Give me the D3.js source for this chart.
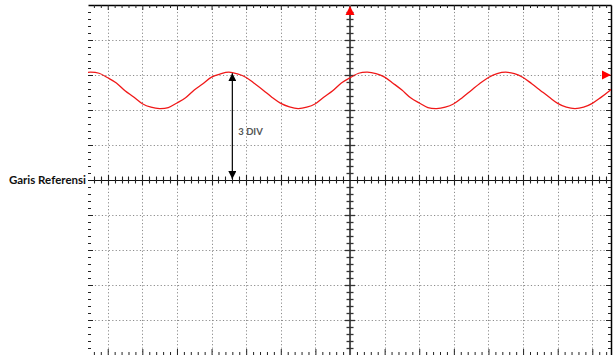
<!DOCTYPE html>
<html>
<head>
  <script type="text/javascript" src="https://cdn.jsdelivr.net/npm/d3@7"></script>
  <title>Garis Referensi</title>
  <style>
    body { margin: 0; background: #fff; }
    svg { display: block; }
  </style>
</head>
<body>

<svg id="scope" width="613" height="355"></svg>

<script>
  var waveX = [-7.75, -7.5, -7.25, -7, -6.75, -6.5, -6.25, -6, -5.75, -5.5, -5.25, -5,
    -4.75, -4.5, -4.25, -4, -3.75, -3.5, -3.25, -3, -2.75, -2.5, -2.25, -2, -1.75,
    -1.5, -1.25, -1, -0.75, -0.5, -0.25, 0, 0.25, 0.5, 0.75, 1, 1.25, 1.5, 1.75,
    2, 2.25, 2.5, 2.75, 3, 3.25, 3.5, 3.75, 4, 4.25, 4.5, 4.75, 5, 5.25, 5.5, 5.75,
    6, 6.25, 6.5, 6.75, 7, 7.25, 7.5, 7.75];
  var waveY = [3.05, 3.08, 3.05, 2.92, 2.77, 2.55, 2.37, 2.18, 2.08, 2.04, 2.07, 2.20,
    2.35, 2.57, 2.75, 2.94, 3.03, 3.08, 3.03, 2.93, 2.75, 2.56, 2.36, 2.19, 2.09,
    2.04, 2.08, 2.18, 2.37, 2.55, 2.77, 2.92, 3.05, 3.08, 3.04, 2.94, 2.76, 2.57, 2.35,
    2.20, 2.07, 2.04, 2.08, 2.18, 2.36, 2.56, 2.76, 2.93, 3.04, 3.08, 3.04, 2.93, 2.75,
    2.56, 2.37, 2.19, 2.08, 2.04, 2.08, 2.19, 2.36, 2.55, 2.76];

  var refLabel = "Garis Referensi";
  var measureLabel = "3 DIV";
  var measureAt = -3.4;      // div, where the arrow sits
  var measureTop = 3.05;     // div
  var triggerLevel = 3;      // div, right-hand marker
  var triggerTime = 0;       // div, top marker

  var svg = d3.select("#scope");

  var x = d3.scaleLinear().domain([-7.57, 7.54]).range([88, 611]);
  var y = d3.scaleLinear().domain([-5, 5]).range([355, 5]);

  var isMajor = function(d) { return Math.abs(d - Math.round(d)) < 1e-6; };
  var minorX = d3.range(-37, 38).map(function(i) { return i / 5; })
      .filter(function(d) { return x(d) > 89 && x(d) < 610; });
  var minorY = d3.range(-24, 25).map(function(i) { return i / 5; });

  // dotted graticule
  var grid = svg.append("g").attr("stroke", "#8c8c8c").attr("stroke-width", 1)
      .attr("stroke-dasharray", "1.2,2.26");
  grid.selectAll(".vgrid")
      .data(d3.range(-7, 8).filter(function(d) { return d !== 0; }))
      .enter().append("line")
      .attr("x1", function(d) { return Math.round(x(d)) + 0.5; })
      .attr("x2", function(d) { return Math.round(x(d)) + 0.5; })
      .attr("y1", y(5)).attr("y2", y(-5));
  grid.selectAll(".hgrid")
      .data(d3.range(-4, 5).filter(function(d) { return d !== 0; }))
      .enter().append("line")
      .attr("y1", function(d) { return Math.round(y(d)) + 0.5; })
      .attr("y2", function(d) { return Math.round(y(d)) + 0.5; })
      .attr("x1", x.range()[0]).attr("x2", x.range()[1]);

  function styleAxis(sel, showDomain) {
    sel.selectAll("text").remove();
    sel.select(".domain").attr("stroke", showDomain ? "#000" : "none").attr("stroke-width", 1.5);
    sel.selectAll(".tick line").attr("stroke", "#222").attr("stroke-width", 1);
  }

  // border ticks
  var topAxis = svg.append("g").attr("transform", "translate(0,5)")
      .call(d3.axisBottom(x).tickValues(minorX).tickSize(3).tickSizeOuter(0).tickFormat(""));
  styleAxis(topAxis, true);
  topAxis.selectAll(".tick line").attr("y2", function(d) { return isMajor(d) ? 5 : 3; });

  var bottomAxis = svg.append("g").attr("transform", "translate(0,355)")
      .call(d3.axisTop(x).tickValues(minorX).tickSize(3).tickSizeOuter(0).tickFormat(""));
  styleAxis(bottomAxis, false);
  bottomAxis.selectAll(".tick line").attr("y2", function(d) { return isMajor(d) ? -6 : -3; });

  var leftAxis = svg.append("g").attr("transform", "translate(88,0)")
      .call(d3.axisRight(y).tickValues(minorY).tickSize(3).tickSizeOuter(0).tickFormat(""));
  styleAxis(leftAxis, false);
  leftAxis.selectAll(".tick line").attr("x2", function(d) { return isMajor(d) ? 5 : 3; });

  var rightAxis = svg.append("g").attr("transform", "translate(611,0)")
      .call(d3.axisLeft(y).tickValues(minorY).tickSize(3).tickSizeOuter(0).tickFormat(""));
  styleAxis(rightAxis, true);
  rightAxis.selectAll(".tick line").attr("x2", function(d) { return isMajor(d) ? -5 : -3; });

  // centre cross with its own ticks
  svg.append("line")
      .attr("x1", x(0)).attr("x2", x(0)).attr("y1", y(5)).attr("y2", y(-5))
      .attr("stroke", "#555").attr("stroke-width", 2);
  svg.append("g").selectAll("line")
      .data(minorY.filter(function(d) { return d !== 0; }))
      .enter().append("line")
      .attr("x1", function(d) { return x(0) - (isMajor(d) ? 5 : 3.5); })
      .attr("x2", function(d) { return x(0) + (isMajor(d) ? 5 : 3.5); })
      .attr("y1", function(d) { return Math.round(y(d)) + 0.5; })
      .attr("y2", function(d) { return Math.round(y(d)) + 0.5; })
      .attr("stroke", "#333").attr("stroke-width", 1.3);

  svg.append("line")
      .attr("x1", x.range()[0]).attr("x2", x.range()[1]).attr("y1", y(0) + 0.5).attr("y2", y(0) + 0.5)
      .attr("stroke", "#111").attr("stroke-width", 1.2);
  svg.append("g").selectAll("line")
      .data(minorX.filter(function(d) { return d !== 0; }))
      .enter().append("line")
      .attr("x1", function(d) { return Math.round(x(d)) + 0.5; })
      .attr("x2", function(d) { return Math.round(x(d)) + 0.5; })
      .attr("y1", function(d) { return y(0) - (isMajor(d) ? 5 : 3.5); })
      .attr("y2", function(d) { return y(0) + (isMajor(d) ? 5 : 3.5); })
      .attr("stroke", "#222").attr("stroke-width", 1.1);

  // trace
  svg.append("clipPath").attr("id", "screen")
      .append("rect").attr("x", 88).attr("y", 5).attr("width", 523).attr("height", 350);
  var line = d3.line()
      .x(function(d, i) { return x(waveX[i]); })
      .y(function(d, i) { return y(waveY[i]); })
      .curve(d3.curveCatmullRom);
  svg.append("path")
      .attr("clip-path", "url(#screen)")
      .attr("d", line(waveX))
      .attr("fill", "none")
      .attr("stroke", "#f01818")
      .attr("stroke-width", 1.3);

  // red markers
  var tx = x(triggerTime), ty = y(5);
  svg.append("path")
      .attr("d", ["M", tx, ty + 1, "L", tx + 4.5, ty + 10, "L", tx - 4.5, ty + 10, "Z"].join(" "))
      .attr("fill", "#ff0000");
  var rx = x.range()[1], ry = y(triggerLevel);
  svg.append("path")
      .attr("d", ["M", rx, ry, "L", rx - 9, ry - 4.5, "L", rx - 9, ry + 4.5, "Z"].join(" "))
      .attr("fill", "#ff0000");

  // 3 DIV measurement arrow
  svg.append("defs").append("marker")
      .attr("id", "head").attr("viewBox", "0 0 10 10")
      .attr("refX", 10).attr("refY", 5)
      .attr("markerWidth", 8).attr("markerHeight", 8)
      .attr("markerUnits", "userSpaceOnUse")
      .attr("orient", "auto-start-reverse")
      .append("path").attr("d", "M0,0 L10,5 L0,10 Z").attr("fill", "#000");
  svg.append("line")
      .attr("x1", x(measureAt)).attr("x2", x(measureAt))
      .attr("y1", y(measureTop)).attr("y2", y(0) - 1)
      .attr("stroke", "#000").attr("stroke-width", 1.2)
      .attr("marker-start", "url(#head)").attr("marker-end", "url(#head)");
  svg.append("text")
      .attr("x", x(measureAt) + 6).attr("y", (y(measureTop) + y(0)) / 2 + 8)
      .attr("font-family", "Lato, 'Open Sans', sans-serif")
      .attr("font-size", 9.5).attr("font-weight", "bold").attr("fill", "#555")
      .text(measureLabel);

  svg.append("text")
      .attr("x", 86).attr("y", y(0) + 4)
      .attr("text-anchor", "end")
      .attr("font-family", "Lato, 'Open Sans', sans-serif")
      .attr("font-size", 11.5).attr("font-weight", "bold").attr("fill", "#111")
      .text(refLabel);
</script>

</body>
</html>
